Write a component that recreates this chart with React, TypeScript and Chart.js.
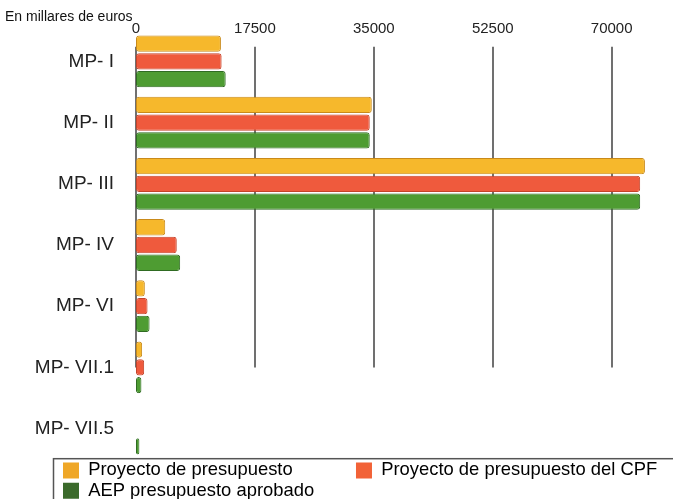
import React, { useEffect, useRef } from "react";
import { Chart, registerables } from "chart.js";

Chart.register(...registerables);

const categories = ["MP- I", "MP- II", "MP- III", "MP- IV", "MP- VI", "MP- VII.1", "MP- VII.5"];
const proyecto = [12500, 34700, 74900, 4300, 1300, 900, 0];
const proyectoCPF = [12600, 34400, 74200, 6000, 1700, 1200, 0];
const aepAprobado = [13200, 34400, 74200, 6500, 2000, 800, 500];
const xTicks = [0, 17500, 35000, 52500, 70000];
const seriesNames = ["Proyecto de presupuesto", "Proyecto de presupuesto del CPF", "AEP presupuesto aprobado"];
const titleText = "En millares de euros";

const barColors = ["#F6B82C", "#EF5A3D", "#4E9C32"];
const barBorders = ["#C98A1A", "#C4432A", "#2F6B22"];
const legendColors = ["#EFA727", "#F26237", "#3B6A2B"];

const FONT = '"Liberation Sans", Arial, Helvetica, sans-serif';

const gridPlugin = {
  id: "partialGrid",
  beforeDatasetsDraw(chart: any) {
    const { ctx, chartArea } = chart;
    const xs = chart.scales.x;
    const ys = chart.scales.y;
    const top = chartArea.top + 16;
    const bottom = ys.getPixelForValue(5);
    ctx.save();
    ctx.strokeStyle = "#707070";
    ctx.lineWidth = 2;
    xTicks.forEach((v) => {
      const x = Math.round(xs.getPixelForValue(v));
      ctx.beginPath();
      ctx.moveTo(x, top);
      ctx.lineTo(x, bottom);
      ctx.stroke();
    });
    ctx.restore();
  },
};

const legendPlugin = {
  id: "legendShift",
  afterLayout(chart: any) {
    const lg = chart.legend;
    if (lg) {
      lg.left = 61;
      lg.right = 720;
    }
  },
  afterDraw(chart: any) {
    const lg = chart.legend;
    if (!lg) return;
    const { ctx } = chart;
    ctx.save();
    ctx.strokeStyle = "#555";
    ctx.lineWidth = 1.5;
    ctx.strokeRect(53.5, lg.top - 0.5, 700, 100);
    ctx.restore();
  },
};

export default function App() {
  const ref = useRef<HTMLCanvasElement>(null);
  useEffect(() => {
    document.body.style.margin = "0";
    document.body.style.overflow = "hidden";
    if (!ref.current) return;
    const datasets = [proyecto, proyectoCPF, aepAprobado].map((d, i) => ({
      label: seriesNames[i],
      data: d,
      backgroundColor: barColors[i],
      borderColor: barBorders[i],
      borderWidth: 1,
      borderRadius: 3,
      borderSkipped: false,
      categoryPercentage: 0.87,
      barPercentage: 0.92,
    }));
    const chart = new Chart(ref.current, {
      type: "bar",
      data: { labels: categories, datasets },
      plugins: [gridPlugin, legendPlugin],
      options: {
        indexAxis: "y",
        responsive: false,
        animation: false,
        devicePixelRatio: 1,
        layout: { padding: { left: 5, right: 7, top: 0, bottom: 0 } },
        plugins: {
          title: {
            display: true,
            text: titleText,
            align: "start",
            color: "#111",
            font: { family: FONT, size: 14, weight: "normal" },
            padding: { top: 9, bottom: 0 },
          },
          legend: {
            display: true,
            position: "bottom",
            align: "start",
            labels: {
              boxWidth: 16,
              boxHeight: 16,
              padding: 2,
              color: "#222",
              font: { family: FONT, size: 18.4 },
              generateLabels: (c: any) =>
                c.data.datasets.map((ds: any, i: number) => ({
                  text: i === 0 ? ds.label + "            " : ds.label,
                  fillStyle: legendColors[i],
                  strokeStyle: legendColors[i],
                  lineWidth: 0,
                  hidden: false,
                  datasetIndex: i,
                })),
            },
          },
          tooltip: { enabled: false },
        },
        scales: {
          x: {
            position: "top",
            min: 0,
            max: 78000,
            afterBuildTicks: (s: any) => {
              s.ticks = xTicks.map((v) => ({ value: v }));
            },
            afterFit: (s: any) => {
              s.height = 5;
            },
            grid: { display: false },
            border: { display: false },
            ticks: {
              mirror: true,
              padding: -11,
              color: "#222",
              font: { family: FONT, size: 15 },
              maxRotation: 0,
              autoSkip: false,
              callback: (v: any) => String(v),
            },
          },
          y: {
            afterFit: (s: any) => {
              s.width = 131;
            },
            grid: { display: false },
            border: { display: false },
            ticks: {
              padding: 14,
              color: "#222",
              font: { family: FONT, size: 19 },
              autoSkip: false,
            },
          },
        },
      } as any,
    });
    return () => chart.destroy();
  }, []);
  return (
    <div style={{ width: 673, height: 499, overflow: "hidden", background: "#fff" }}>
      <canvas ref={ref} width={673} height={510} style={{ display: "block" }} />
    </div>
  );
}
